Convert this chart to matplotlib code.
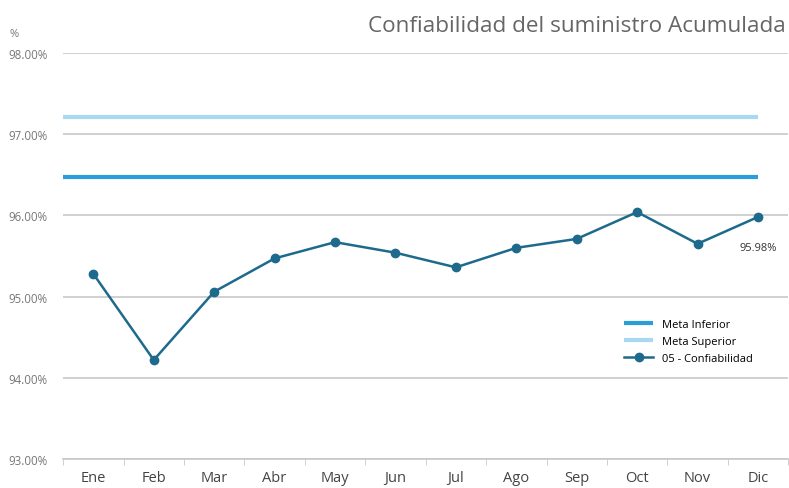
import matplotlib.pyplot as plt
import numpy as np

plt.rcParams['font.family'] = ['Open Sans', 'DejaVu Sans']

months = ["Ene", "Feb", "Mar", "Abr", "May", "Jun", "Jul", "Ago", "Sep", "Oct", "Nov", "Dic"]
confiabilidad = [95.28, 94.22, 95.06, 95.47, 95.67, 95.54, 95.36, 95.60, 95.71, 96.04, 95.65, 95.98]
meta_inferior = 96.47
meta_superior = 97.21

fig = plt.figure(figsize=(7.89, 4.89), dpi=100)
ax = fig.add_axes([0.080, 0.059, 0.919, 0.831])

x = np.arange(len(months))
ax.hlines(meta_inferior, -0.5, 11, color='#2a9ed8', lw=3, label='Meta Inferior', zorder=3)
ax.hlines(meta_superior, -0.5, 11, color='#a8d8f2', lw=3, label='Meta Superior', zorder=3)
ax.plot(x, confiabilidad, '-o', color='#1e6a8d', lw=1.8, ms=6, label='05 - Confiabilidad', zorder=4)
ax.annotate(f"{confiabilidad[-1]:.2f}%", (x[-1], confiabilidad[-1]), xytext=(0, -24),
            textcoords='offset points', ha='center', fontsize=8, color='#333333')

ax.set_xlim(-0.5, 11.5)
ax.set_ylim(93, 98)
ax.set_yticks(np.arange(93, 98.5, 1))
ax.set_yticklabels([f"{v:.2f}%" for v in np.arange(93, 98.5, 1)], fontsize=8.3, color='#777777')
ax.yaxis.grid(True, color='#c8c8c8', lw=1.2)
ax.set_axisbelow(True)
ax.tick_params(axis='y', length=0, pad=11)

ax.set_xticks(x)
ax.set_xticklabels(months, fontsize=10.5, color='#444444')
ax.set_xticks(np.arange(-0.5, 12, 1), minor=True)
ax.tick_params(axis='x', which='major', length=0, pad=8)
ax.tick_params(axis='x', which='minor', length=4, color='#c8c8c8', direction='out')

for s in ['left', 'right', 'top']:
    ax.spines[s].set_visible(False)
ax.spines['bottom'].set_color('#c8c8c8')
ax.spines['bottom'].set_linewidth(1.2)

ax.legend(loc='upper left', bbox_to_anchor=(0.76, 0.37), frameon=False, fontsize=8,
          handlelength=2.6, labelspacing=0.55)

fig.text(0.996, 0.968, "Confiabilidad del suministro Acumulada", ha='right', va='top',
         fontsize=16.2, color='#666666')
fig.text(0.012, 0.925, "%", fontsize=8, color='#777777')

fig.savefig("out.png", dpi=100)
